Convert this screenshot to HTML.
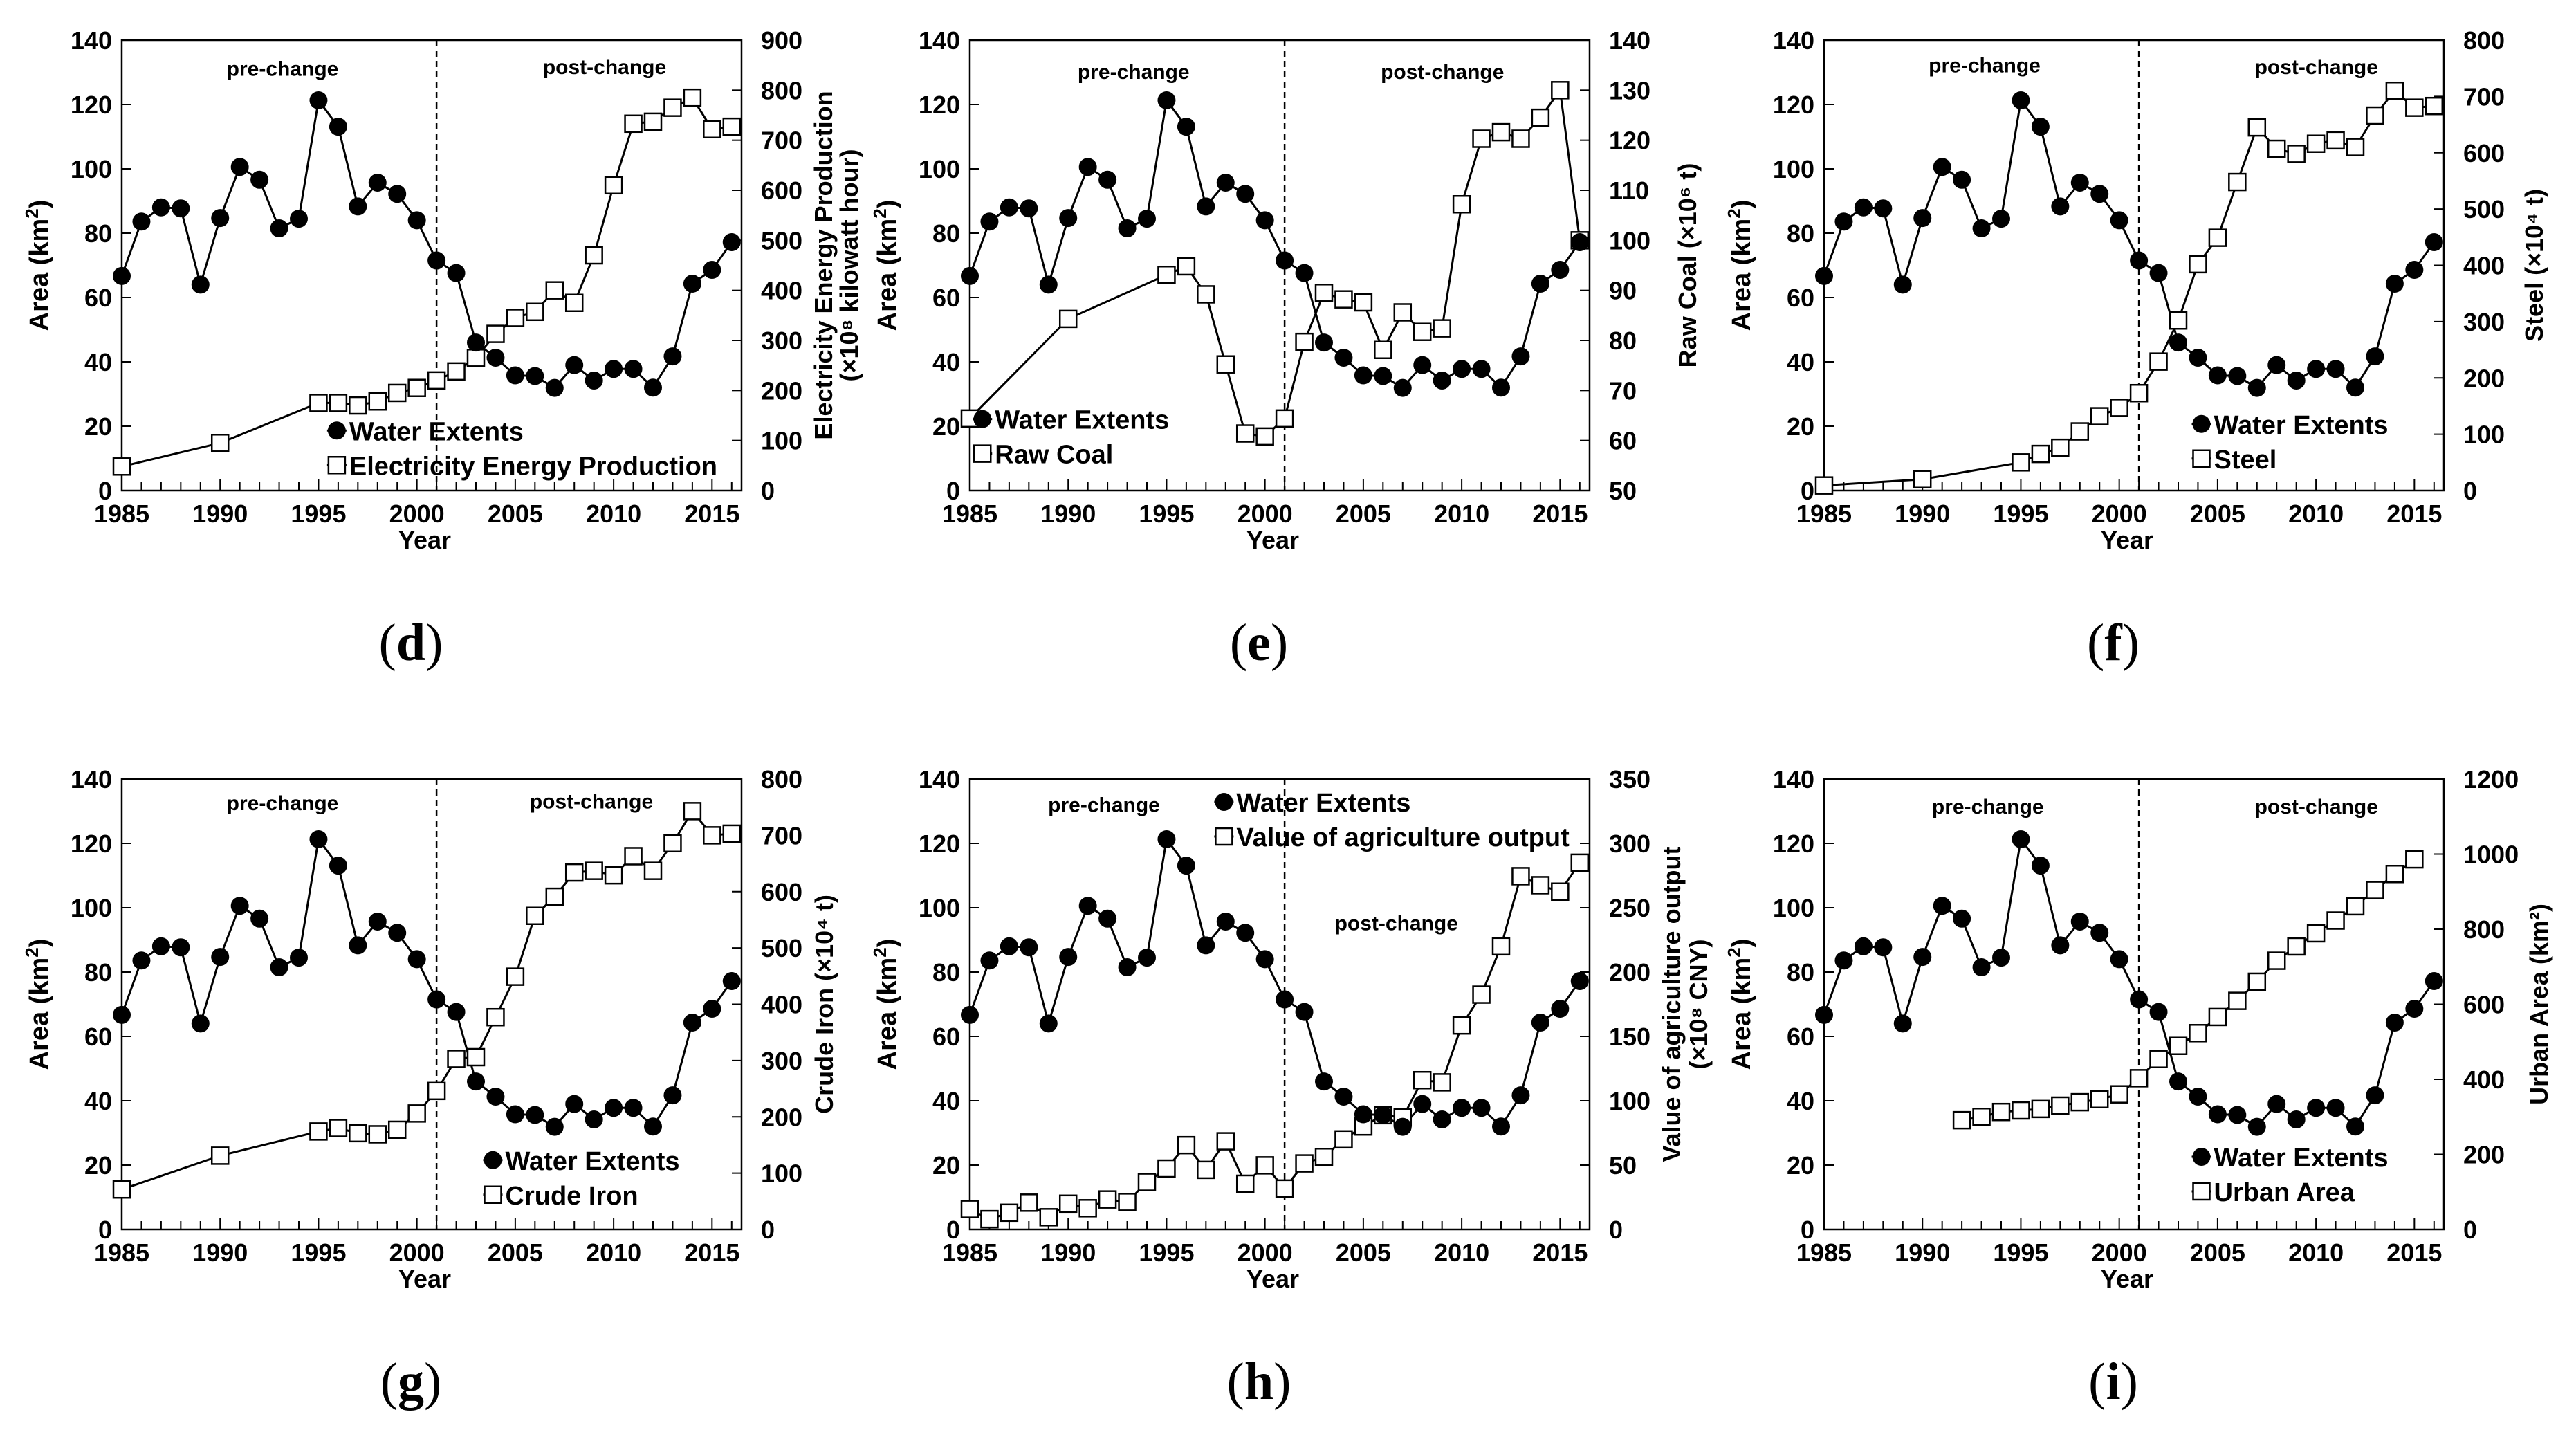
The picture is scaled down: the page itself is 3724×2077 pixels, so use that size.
<!DOCTYPE html>
<html><head><meta charset="utf-8"><style>
html,body{margin:0;padding:0;background:#fff}
svg{display:block}
text{font-family:"Liberation Sans",Arial,sans-serif;fill:#000}
</style></head><body>
<svg id="fig" width="3724" height="2077" viewBox="0 0 3724 2077" xmlns="http://www.w3.org/2000/svg"></svg>
<script>
const years = [1985,1986,1987,1988,1989,1990,1991,1992,1993,1994,1995,1996,1997,1998,1999,2000,2001,2002,2003,2004,2005,2006,2007,2008,2009,2010,2011,2012,2013,2014,2015,2016];
const waterExtents = [66.7,83.6,88,87.7,64,84.7,100.6,96.6,81.5,84.5,121.3,113.1,88.3,95.7,92.2,84,71.5,67.6,46,41.3,35.8,35.6,31.9,39,34.2,37.8,37.8,32,41.7,64.3,68.6,77.2];
const elecYears = [1985,1990,1995,1996,1997,1998,1999,2000,2001,2002,2003,2004,2005,2006,2007,2008,2009,2010,2011,2012,2013,2014,2015,2016];
const elecValues = [48,95,175,175,170,178,195,205,220,238,265,313,345,357,400,375,470,610,733,737,765,785,722,727];
const coalYears = [1985,1990,1995,1996,1997,1998,1999,2000,2001,2002,2003,2004,2005,2006,2007,2008,2009,2010,2011,2012,2013,2014,2015,2016];
const coalValues = [64.4,84.3,93.1,94.8,89.2,75.2,61.4,60.8,64.4,79.7,89.5,88.2,87.6,78.1,85.6,81.7,82.4,107.2,120.3,121.6,120.3,124.5,130,100];
const steelYears = [1985,1990,1995,1996,1997,1998,1999,2000,2001,2002,2003,2004,2005,2006,2007,2008,2009,2010,2011,2012,2013,2014,2015,2016];
const steelValues = [9,20,50,65,76,105,132,147,173,229,302,402,449,548,645,607,598,616,622,610,666,710,680,683];
const ironYears = [1985,1990,1995,1996,1997,1998,1999,2000,2001,2002,2003,2004,2005,2006,2007,2008,2009,2010,2011,2012,2013,2014,2015,2016];
const ironValues = [71,131,174,180,171,169,177,206,246,303,306,377,449,557,591,634,637,629,663,637,686,743,700,703];
const agriYears = years;
const agriValues = [15.8,8,13,20.8,9.5,20,16.5,23.3,21.3,36.8,47.3,65.5,46.3,68.5,35.5,49.8,31.8,51.3,56.3,70,80,88.8,87,116,114.3,158.5,182.5,220,274.5,267.5,262.5,285];
const urbanYears = [1992,1993,1994,1995,1996,1997,1998,1999,2000,2001,2002,2003,2004,2005,2006,2007,2008,2009,2010,2011,2012,2013,2014,2015];
const urbanValues = [291,300,313,317,321,330,339,347,360,403,454,489,523,566,609,660,716,754,789,823,861,904,947,986];
const leftTicks = [0,20,40,60,80,100,120,140];
const xTicks = [1985,1990,1995,2000,2005,2010,2015];

const NS="http://www.w3.org/2000/svg";
const svg=document.getElementById('fig');
function mk(tag,attrs,parent,txt){const e=document.createElementNS(NS,tag);for(const k in attrs)e.setAttribute(k,attrs[k]);if(txt!==undefined)e.textContent=txt;(parent||svg).appendChild(e);return e;}

const W=896,H=651;
const panels=[
 {id:'d',x:176,y:58,ys:elecYears,vs:elecValues,rmax:900,rmin:0,rstep:100,name:'Electricity Energy Production',title:['Electricity Energy Production','(×10⁸ kilowatt hour)'],toff:[131,168],leg:[205,262],pre:[172,41],post:[368,40]},
 {id:'e',x:1402,y:58,ys:coalYears,vs:coalValues,rmax:140,rmin:50,rstep:10,name:'Raw Coal',title:['Raw Coal (×10⁶ t)'],toff:[154],leg:[598,255],pre:[690,43],post:[878,43]},
 {id:'f',x:2637,y:58,ys:steelYears,vs:steelValues,rmax:800,rmin:0,rstep:100,name:'Steel',title:['Steel (×10⁴ t)'],toff:[143],leg:[1340,258],pre:[1208,39],post:[1410,40]},
 {id:'g',x:176,y:1126,ys:ironYears,vs:ironValues,rmax:800,rmin:0,rstep:100,name:'Crude Iron',title:['Crude Iron (×10⁴ t)'],toff:[132],leg:[300,706],pre:[172,488],post:[360,487]},
 {id:'h',x:1402,y:1126,ys:agriYears,vs:agriValues,rmax:350,rmin:0,rstep:50,name:'Value of agriculture output',title:['Value of agriculture output','(×10⁸ CNY)'],toff:[131,170],leg:[745,488],pre:[672,489],post:[850,561]},
 {id:'i',x:2637,y:1126,ys:urbanYears,vs:urbanValues,rmax:1200,rmin:0,rstep:200,name:'Urban Area',title:['Urban Area (km²)'],toff:[150],leg:[1340,704],pre:[1210,490],post:[1410,490]}
];
const S=2.375;
panels.forEach(p=>{
 const g=mk('g',{});
 
 
 const xs=v=>p.x+(v-1985)/31.5*W;
 const yl=v=>p.y+H-v/140*H;
 const yr=v=>p.y+H-(v-p.rmin)/(p.rmax-p.rmin)*H;
 const frame=mk('rect',{x:p.x,y:p.y,width:W,height:H,fill:'none',stroke:'#000','stroke-width':2.5},g);
 
 
 for(let yv=1985;yv<=2016;yv++){mk('line',{x1:xs(yv),x2:xs(yv),y1:p.y+H,y2:p.y+H-(yv%5==0?16:12),stroke:'#000','stroke-width':2},g);}
 xTicks.forEach(t=>{const e=mk('text',{x:xs(t),y:p.y+H+46,'font-size':36,'font-weight':'bold','text-anchor':'middle'},g,t);});
 const xt=mk('text',{x:p.x+W/2-10,y:p.y+H+84,'font-size':36,'font-weight':'bold','text-anchor':'middle'},g,'Year');
 
 leftTicks.forEach(t=>{mk('line',{x1:p.x,x2:p.x+14,y1:yl(t),y2:yl(t),stroke:'#000','stroke-width':2},g);
  const e=mk('text',{x:p.x-14,y:yl(t)+13,'font-size':36,'font-weight':'bold','text-anchor':'end'},g,t);});
 const lt=mk('text',{transform:`translate(${p.x-107},${p.y+H/2}) rotate(-90)`,'font-size':38,'font-weight':'bold','text-anchor':'middle'},g);
 lt.textContent='Area (km';mk('tspan',{'font-size':26,dy:-14},lt,'2');mk('tspan',{dy:14},lt,')');
 
 for(let t=p.rmin;t<=p.rmax+0.001;t+=p.rstep){mk('line',{x1:p.x+W,x2:p.x+W-14,y1:yr(t),y2:yr(t),stroke:'#000','stroke-width':2},g);
  const e=mk('text',{x:p.x+W+28,y:yr(t)+13,'font-size':36,'font-weight':'bold'},g,t);}
 p.title.forEach((s,i)=>{const e=mk('text',{transform:`translate(${p.x+W+p.toff[i]},${p.y+H/2}) rotate(-90)`,'font-size':36,'font-weight':'bold','text-anchor':'middle'},g,s);});
 const dl=mk('line',{x1:xs(2001),x2:xs(2001),y1:p.y,y2:p.y+H,stroke:'#000','stroke-width':2.5,'stroke-dasharray':'9,6'},g);
 
 const pr=mk('text',{x:p.pre[0]*S,y:p.pre[1]*S+12,'font-size':30,'font-weight':'bold','text-anchor':'middle'},g,'pre-change');
 
 const po=mk('text',{x:p.post[0]*S,y:p.post[1]*S+12,'font-size':30,'font-weight':'bold','text-anchor':'middle'},g,'post-change');
 
 const sp=p.ys.map((yv,i)=>xs(yv)+','+yr(p.vs[i])).join(' ');
 const sl=mk('polyline',{points:sp,fill:'none',stroke:'#000','stroke-width':3},g);
 
 const wp=years.map((yv,i)=>xs(yv)+','+yl(waterExtents[i])).join(' ');
 const wl=mk('polyline',{points:wp,fill:'none',stroke:'#000','stroke-width':3},g);
 
 p.ys.forEach((yv,i)=>{const r=mk('rect',{x:xs(yv)-12,y:yr(p.vs[i])-12,width:24,height:24,fill:'#fff',stroke:'#000','stroke-width':2.5},g);
  });
 years.forEach((yv,i)=>{const c=mk('circle',{cx:xs(yv),cy:yl(waterExtents[i]),r:13,fill:'#000'},g);
  });
 const lx=p.leg[0]*S,ly=p.leg[1]*S;
 const lg=mk('g',{},g);
 mk('line',{x1:lx-14,x2:lx+14,y1:ly,y2:ly,stroke:'#000','stroke-width':3},lg);
 mk('circle',{cx:lx,cy:ly,r:13,fill:'#000'},lg);
 mk('text',{x:lx+18,y:ly+14,'font-size':38,'font-weight':'bold'},lg,'Water Extents');
 const ly2=ly+50;
 mk('line',{x1:lx-14,x2:lx+14,y1:ly2,y2:ly2,stroke:'#000','stroke-width':3},lg);
 mk('rect',{x:lx-12,y:ly2-12,width:24,height:24,fill:'#fff',stroke:'#000','stroke-width':2.5},lg);
 mk('text',{x:lx+18,y:ly2+14,'font-size':38,'font-weight':'bold'},lg,p.name);
 const pl=mk('text',{x:p.x+W/2-30,y:p.y+H+245,'font-size':76,'text-anchor':'middle',style:'font-family:"Liberation Serif",serif'},g);
 pl.textContent='(';mk('tspan',{'font-weight':'bold'},pl,p.id);mk('tspan',{},pl,')');
 
});
</script>
</body></html>
